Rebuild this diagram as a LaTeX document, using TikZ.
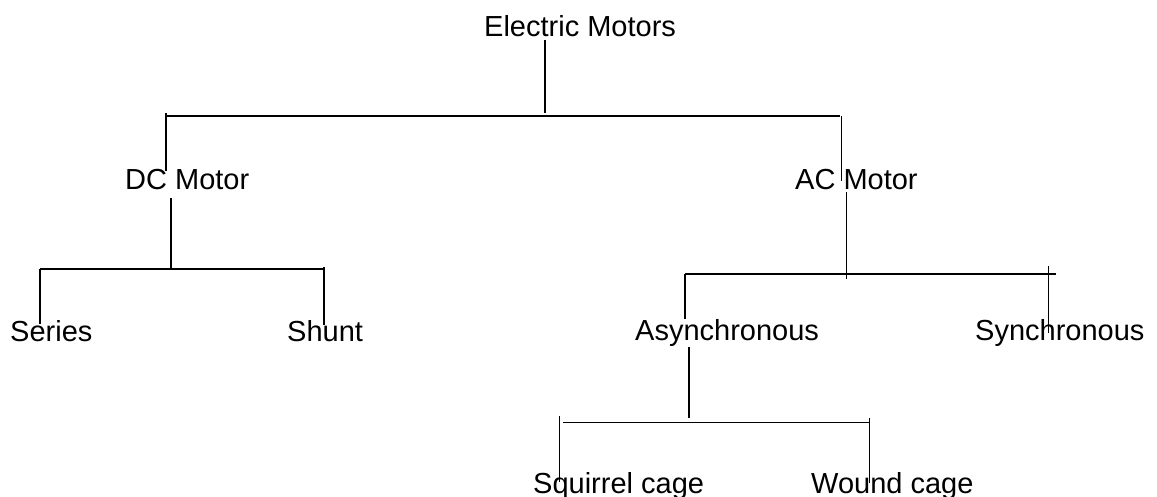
\documentclass[tikz,border=0pt]{standalone}
\usepackage{fontspec}
\setmainfont{Liberation Sans}
\begin{document}
\begin{tikzpicture}[x=1pt,y=-1pt,
  lbl/.style={anchor=base west,inner sep=0pt,font=\fontsize{29}{34}\selectfont},
  ln/.style={line width=1.1pt,black}]
\useasboundingbox (0,0) rectangle (1157,497);
% labels
\node[lbl] (em) at (484,37) {Electric Motors};
\node[lbl] (dc) at (125,190) {DC Motor};
\node[lbl] (ac) at (795,190) {AC Motor};
\node[lbl] (series) at (10,341) {Series};
\node[lbl] (shunt) at (287,341) {Shunt};
\node[lbl] (async) at (635,340) {Asynchronous};
\node[lbl] (sync) at (975,340) {Synchronous};
\node[lbl] (squirrel) at (533,493) {Squirrel cage};
\node[lbl] (wound) at (811,493) {Wound cage};
% junction coordinates
\coordinate (e1) at (545,40);
\coordinate (e2) at (545,113);
\coordinate (t1) at (166,116);
\coordinate (t2) at (840,116);
\coordinate (d0) at (166,113);
\coordinate (d1) at (166,171);
\coordinate (a0) at (841,116);
\coordinate (a1) at (841,181);
\coordinate (dd1) at (171,198);
\coordinate (dd2) at (171,268);
\coordinate (h1) at (40,269);
\coordinate (h2) at (324,269);
\coordinate (se) at (40,324);
\coordinate (sh0) at (324,267);
\coordinate (sh) at (324,325);
\coordinate (ad1) at (846,192);
\coordinate (ad2) at (846,279);
\coordinate (k1) at (685,274);
\coordinate (k2) at (1056,274);
\coordinate (as) at (685,319);
\coordinate (sy0) at (1048,266);
\coordinate (sy) at (1048,333);
\coordinate (q1) at (689,347);
\coordinate (q2) at (689,418);
\coordinate (b1) at (563,422);
\coordinate (b2) at (869,422);
\coordinate (sq0) at (559,416);
\coordinate (sq) at (559,482);
\coordinate (wc0) at (869,418);
\coordinate (wc) at (869,483);
% connectors
\draw[ln] (e1) -- (e2);
\draw[ln] (t1) -- (t2);
\draw[ln] (d0) -- (d1);
\draw[ln,line width=0.8pt] (a0) -- (a1);
\draw[ln] (dd1) -- (dd2);
\draw[ln] (h1) -- (h2);
\draw[ln] (h1) -- (se);
\draw[ln] (sh0) -- (sh);
\draw[ln,line width=0.8pt] (ad1) -- (ad2);
\draw[ln] (k1) -- (k2);
\draw[ln] (k1) -- (as);
\draw[ln,line width=0.8pt] (sy0) -- (sy);
\draw[ln] (q1) -- (q2);
\draw[ln,line width=0.8pt] (b1) -- (b2);
\draw[ln,line width=0.8pt] (sq0) -- (sq);
\draw[ln,line width=0.8pt] (wc0) -- (wc);
\end{tikzpicture}
\end{document}
